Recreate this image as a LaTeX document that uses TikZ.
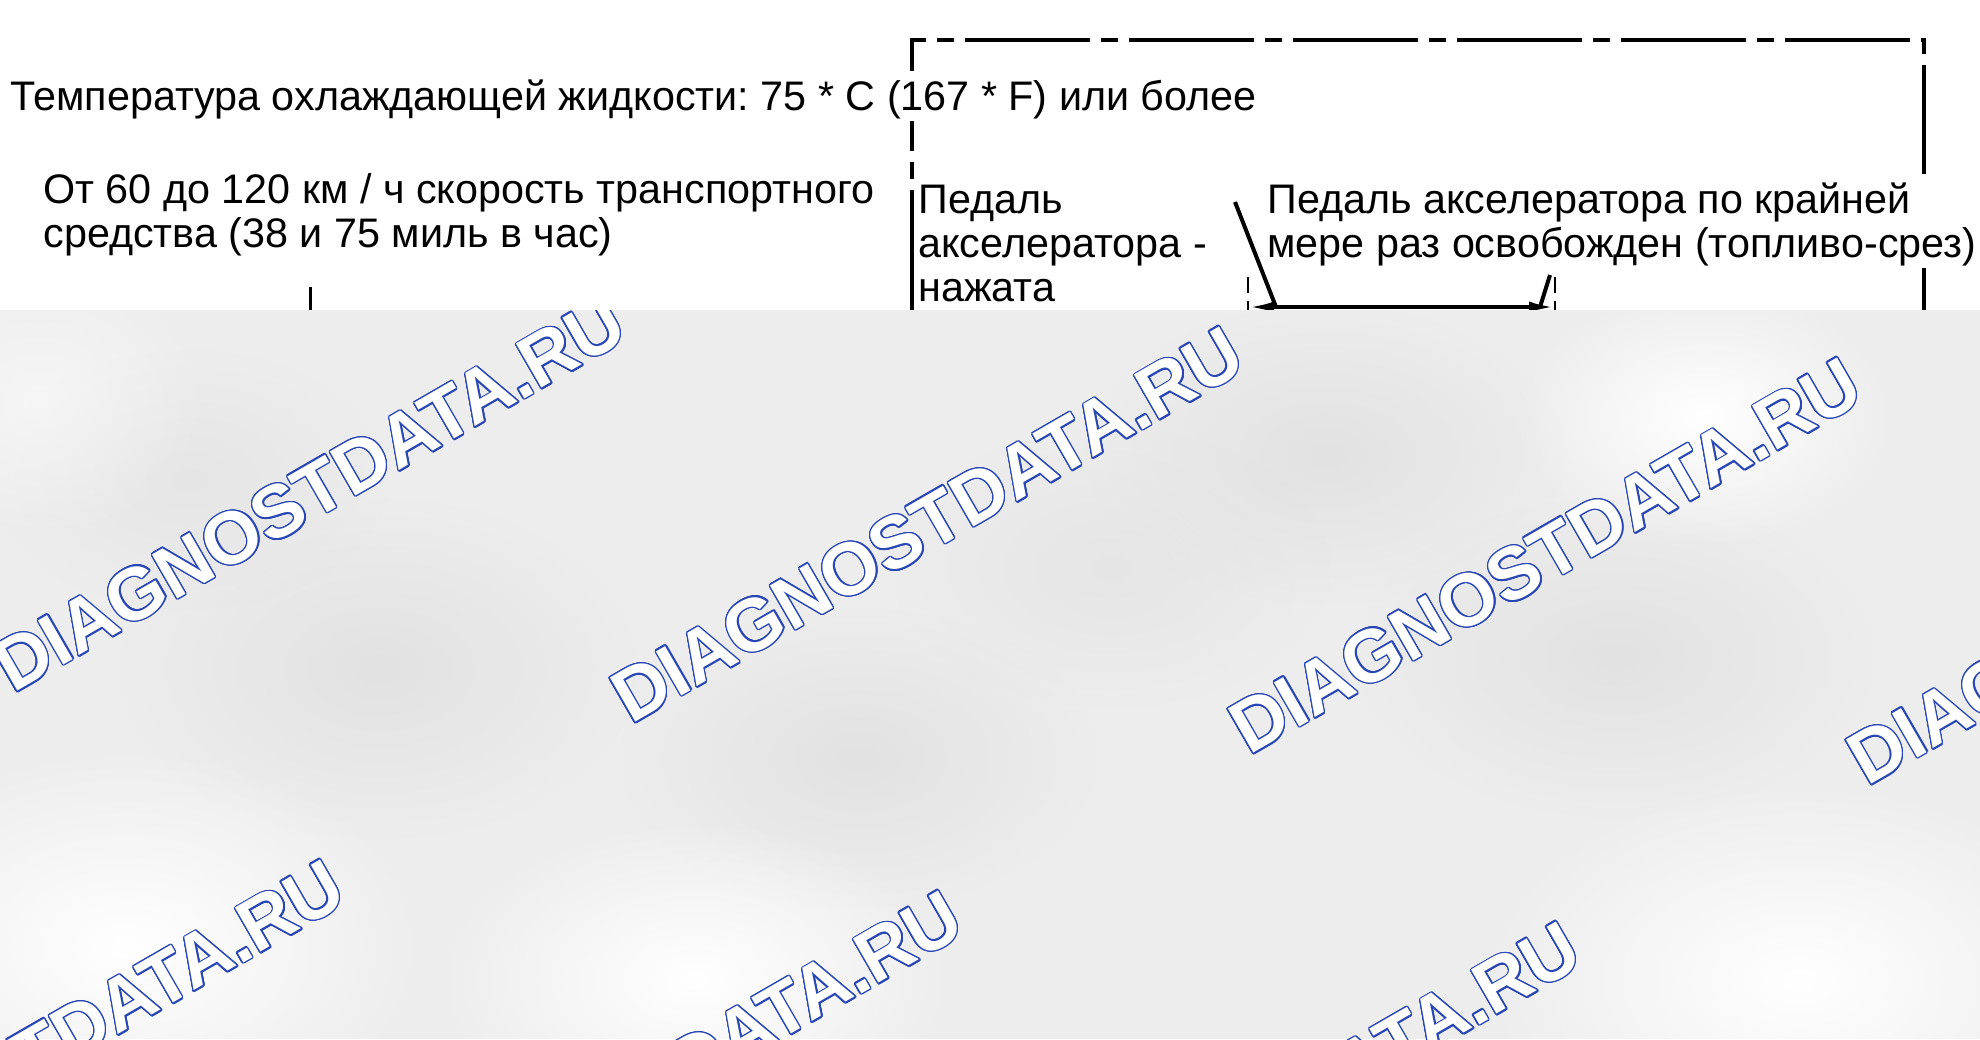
\documentclass[tikz,border=0pt]{standalone}
\usepackage{fontspec}
\setmainfont{Liberation Sans}
\usetikzlibrary{arrows.meta,fadings}
\definecolor{wmblue}{HTML}{2846B4}
\definecolor{veil}{HTML}{EDEDED}
\definecolor{veildark}{HTML}{E2E2E2}
\tikzfading[name=fuzzy, inner color=transparent!0, outer color=transparent!100]
\frenchspacing
\newcommand\mystrut{\rule[-0.22em]{0pt}{1.12em}}
\newcommand\linesbox[1]{\vtop{\baselineskip=22pt\lineskiplimit=-100pt\lineskip=0pt #1}}
\newcommand\txtline[1]{\hbox{\mystrut #1}}
\tikzset{
  maintext/.style={font=\fontsize{20.65pt}{22pt}\selectfont, anchor=base west, inner xsep=0pt, inner ysep=1pt, fill=white, text=black},
  boxline/.style={line width=2pt, dash pattern=on 62.5pt off 5.5pt on 8.5pt off 5.5pt},
  dimline/.style={line width=2pt, {Latex[length=13pt,width=5.5pt]}-{Latex[length=13pt,width=5.5pt]}},
  leader/.style={line width=2pt},
  extline/.style={line width=1pt, dash pattern=on 8pt off 4pt},
  wmtext/.style={font=\fontsize{37pt}{37pt}\selectfont\bfseries, rotate=30, anchor=base west, inner sep=0pt},
}
\newcommand\watermark[2]{%
  \foreach \a [count=\k] in {0,22.5,...,337.5}{%
    \node[wmtext, text=wmblue, shift={(\a:0.7pt)}] (#1o\k) at #2 {DIAGNOSTDATA.RU};
  }%
  \node[wmtext, text=white] (#1) at #2 {DIAGNOSTDATA.RU};
}
\begin{document}
\begin{tikzpicture}[x=0.5pt, y=-0.5pt]
\useasboundingbox (0,0) rectangle (1980,1039);
\fill[white] (0,0) rectangle (1980,1039);

% dash-dot frame (upper part)
\coordinate (frLB) at (912,315);
\coordinate (frLT) at (912,40);
\coordinate (frRT) at (1924,40);
\coordinate (frRB) at (1924,315);
\draw[boxline] (frLB) -- (frLT) -- (frRT) -- (frRB);

% texts
\node[maintext] (temp) at (10,110) {\linesbox{\txtline{Температура охлаждающей жидкости: 75 * C (167 * F) или более}}};
\node[maintext] (speed) at (43,203) {\linesbox{\txtline{От 60 до 120 км / ч скорость транспортного}\txtline{средства (38 и 75 миль в час)}}};
\node[maintext] (pressed) at (918,213) {\linesbox{\txtline{Педаль}\txtline{акселератора -}\txtline{нажата}}};
\node[maintext] (released) at (1267,213) {\linesbox{\txtline{Педаль акселератора по крайней}\txtline{мере раз освобожден (топливо-срез)}}};

% speed leader line
\coordinate (spA) at (310,287);
\coordinate (spB) at (310,330);
\draw[line width=1.5pt] (spA) -- (spB);

% dimension arrow with extension lines
\coordinate (dimL) at (1248,307);
\coordinate (dimR) at (1555,307);
\coordinate (extLa) at (1248,277);
\coordinate (extLb) at (1248,330);
\coordinate (extRa) at (1555,277);
\coordinate (extRb) at (1555,330);
\draw[extline] (extLa) -- (extLb);
\draw[extline] (extRa) -- (extRb);
\draw[dimline] (dimL) -- (dimR);
\coordinate (ldA) at (1235,202);
\coordinate (ldAe) at (1276,307);
\coordinate (ldB) at (1550,275);
\coordinate (ldBe) at (1540,307);
\draw[leader] (ldA) -- (ldAe);
\draw[leader] (ldB) -- (ldBe);

% grey veil with watermarks
\begin{scope}
\clip (0,310) rectangle (1980,1039);
\fill[veil] (0,310) rectangle (1980,1039);
\fill[veildark, path fading=fuzzy] (379,669) ellipse (260 and 170);
\fill[veildark, path fading=fuzzy] (859,758) ellipse (240 and 150);
\fill[veildark, path fading=fuzzy] (1326,455) ellipse (240 and 150);
\fill[veildark, path fading=fuzzy] (1616,657) ellipse (260 and 160);
\fill[veildark, path fading=fuzzy, fill opacity=0.7] (1111,568) ellipse (220 and 140);
\fill[veildark, path fading=fuzzy, fill opacity=0.7] (189,480) ellipse (200 and 130);
\fill[white, path fading=fuzzy] (126,947) ellipse (300 and 200);
\fill[white, path fading=fuzzy] (695,980) ellipse (260 and 160);
\fill[white, path fading=fuzzy] (1800,980) ellipse (320 and 200);
\fill[white, path fading=fuzzy] (1705,417) ellipse (190 and 130);
\fill[white, path fading=fuzzy, fill opacity=0.5] (40,400) ellipse (170 and 140);
\watermark{wmA}{(13,694)}
\watermark{wmB}{(631,725)}
\watermark{wmC}{(1249,756)}
\watermark{wmD}{(1867,787)}
\watermark{wmE}{(-268,1258)}
\watermark{wmF}{(350,1289)}
\watermark{wmG}{(968,1320)}
\watermark{wmH}{(1586,1351)}
\end{scope}
\end{tikzpicture}
\end{document}
